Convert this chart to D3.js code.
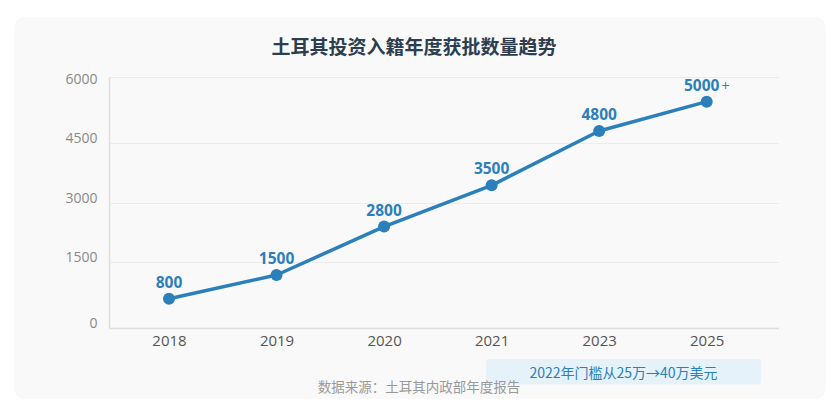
<!DOCTYPE html>
<html>
<head>
<meta charset="utf-8">
<script src="https://cdn.jsdelivr.net/npm/d3@7"></script>
<style>
  html, body { margin: 0; padding: 0; background: #ffffff; }
  svg { display: block; font-family: "Open Sans", "Noto Sans CJK SC", sans-serif; }
</style>
</head>
<body>
<svg id="chart" width="831" height="410"></svg>
<script>
const title = "土耳其投资入籍年度获批数量趋势";
const years = ["2018", "2019", "2020", "2021", "2023", "2025"];
const values = [580, 1180, 2400, 3440, 4810, 5550];
const valueLabels = ["800", "1500", "2800", "3500", "4800", "5000"];
const labelSuffix = ["", "", "", "", "", "+"];
const yTicks = [0, 1500, 3000, 4500, 6000];
const note = "2022年门槛从25万→40万美元";
const source = "数据来源：土耳其内政部年度报告";

const svg = d3.select("#chart");

// card
svg.append("rect").attr("x", 14).attr("y", 17).attr("width", 812).attr("height", 382)
  .attr("rx", 12).attr("fill", "#f9f9f9");

// title
svg.append("text").attr("x", 414).attr("y", 45).attr("text-anchor", "middle")
  .attr("dominant-baseline", "central")
  .attr("font-family", "'Noto Sans CJK SC', sans-serif")
  .attr("font-size", 19).attr("font-weight", 700).attr("fill", "#2c3e50")
  .text(title);

const plotLeft = 109.5, plotRight = 779, plotTop = 77.5, plotBottom = 328.5;

const x = d3.scalePoint().domain(years).range([169, 706.7]);
const y = d3.scaleLinear().domain([0, 6000]).range([321.8, 83.8]);

// top border
svg.append("line").attr("x1", plotLeft).attr("x2", plotRight)
  .attr("y1", plotTop).attr("y2", plotTop).attr("stroke", "#eaeaea").attr("stroke-width", 1);

// gridlines
svg.append("g").selectAll("line").data(yTicks.filter(d => d > 0 && d < 6000)).join("line")
  .attr("x1", plotLeft).attr("x2", plotRight)
  .attr("y1", d => Math.round(y(d)) + 0.5).attr("y2", d => Math.round(y(d)) + 0.5)
  .attr("stroke", "#ececec").attr("stroke-width", 1);

// axes lines
svg.append("line").attr("x1", plotLeft).attr("x2", plotLeft)
  .attr("y1", plotTop).attr("y2", plotBottom).attr("stroke", "#dddddd").attr("stroke-width", 1.5);
svg.append("line").attr("x1", plotLeft).attr("x2", plotRight)
  .attr("y1", plotBottom).attr("y2", plotBottom).attr("stroke", "#dddddd").attr("stroke-width", 1.5);

// y tick labels
const yAxis = d3.axisLeft(y).tickValues(yTicks).tickSize(0).tickPadding(12).tickFormat(d3.format("d"));
const gy = svg.append("g").attr("transform", `translate(${plotLeft},0)`).call(yAxis);
gy.select(".domain").remove();
gy.selectAll("text").attr("font-size", 14).attr("fill", "#8a8a8a")
  .attr("font-family", "'Open Sans', sans-serif")
  .attr("dy", d => d === 0 ? "0.32em" : "-0.05em")
  .attr("transform", d => d === 0 ? "translate(0,1.5)" : null);

// x tick labels
const xAxis = d3.axisBottom(x).tickSize(0).tickPadding(7);
const gx = svg.append("g").attr("transform", `translate(0,${plotBottom})`).call(xAxis);
gx.select(".domain").remove();
gx.selectAll("text").attr("font-size", 15).attr("fill", "#555555")
  .attr("font-family", "'Open Sans', sans-serif");

const color = "#2b7fba";

// line
const line = d3.line().x((d, i) => x(years[i])).y(d => y(d));
svg.append("path").datum(values).attr("d", line).attr("fill", "none")
  .attr("stroke", color).attr("stroke-width", 3.5).attr("stroke-linejoin", "round");

// points
svg.append("g").selectAll("circle").data(values).join("circle")
  .attr("cx", (d, i) => x(years[i])).attr("cy", d => y(d)).attr("r", 6)
  .attr("fill", color);

// value labels
const lbl = svg.append("g").selectAll("text").data(values).join("text")
  .attr("x", (d, i) => x(years[i])).attr("y", d => y(d) - 17)
  .attr("text-anchor", "middle").attr("dominant-baseline", "central")
  .attr("font-family", "'Open Sans', sans-serif")
  .attr("font-size", 15.5).attr("font-weight", 700).attr("fill", color);
lbl.append("tspan").text((d, i) => valueLabels[i]);
lbl.append("tspan").attr("dx", 2).attr("font-size", 14).attr("font-weight", 400)
  .text((d, i) => labelSuffix[i]);

// note box
svg.append("rect").attr("x", 486).attr("y", 359).attr("width", 275).attr("height", 25.5)
  .attr("rx", 4).attr("fill", "#e5f2f9");
svg.append("text").attr("x", 623.5).attr("y", 371.5).attr("text-anchor", "middle")
  .attr("dominant-baseline", "central")
  .attr("font-family", "'Noto Sans CJK SC', sans-serif")
  .attr("font-size", 14).attr("fill", "#2b7fba").text(note);

// source
svg.append("text").attr("x", 419).attr("y", 386).attr("text-anchor", "middle")
  .attr("dominant-baseline", "central")
  .attr("font-family", "'Noto Sans CJK SC', sans-serif")
  .attr("font-size", 13.5).attr("fill", "#999999").text(source);
</script>
</body>
</html>
